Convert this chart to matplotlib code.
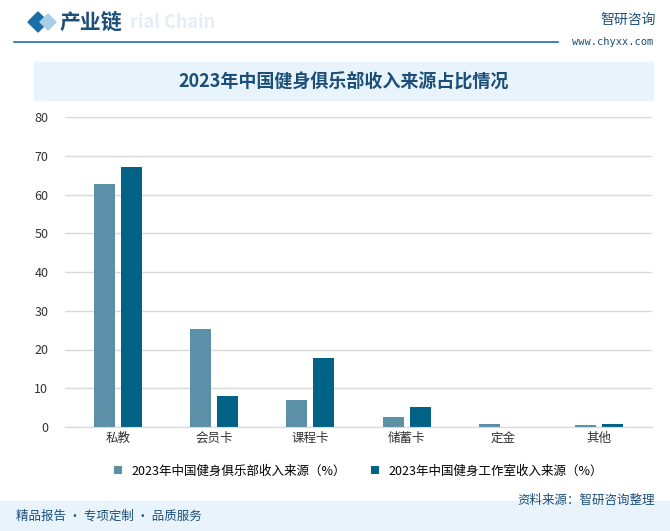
import matplotlib.pyplot as plt
from matplotlib.patches import Rectangle, Polygon
import numpy as np

plt.rcParams['font.sans-serif'] = ['Noto Sans CJK SC', 'DejaVu Sans']
plt.rcParams['axes.unicode_minus'] = False

categories = ['私教', '会员卡', '课程卡', '储蓄卡', '定金', '其他']
club = [62.7, 25.3, 7.0, 2.6, 0.8, 0.5]
studio = [67.1, 8.0, 17.8, 5.2, 0.0, 0.8]
series_names = ['2023年中国健身俱乐部收入来源（%）', '2023年中国健身工作室收入来源（%）']

W, H = 670, 531
fig = plt.figure(figsize=(W / 100, H / 100), dpi=100)

# 顶部标题栏
fig.patches.append(Polygon([[28 / W, 1 - 22 / H], [38 / W, 1 - 12 / H], [48 / W, 1 - 22 / H], [38 / W, 1 - 32 / H]],
                           closed=True, color='#1a6fa8', transform=fig.transFigure))
fig.patches.append(Polygon([[40 / W, 1 - 22 / H], [48 / W, 1 - 14 / H], [56 / W, 1 - 22 / H], [48 / W, 1 - 30 / H]],
                           closed=True, color='#a9cde6', transform=fig.transFigure))
fig.text(130 / W, 1 - 32 / H, 'rial Chain', fontsize=13, color='#e3eef7', fontweight='bold', va='bottom')
fig.text(60 / W, 1 - 22 / H, '产业链', fontsize=15, color='#1b4f7a', va='center', fontweight='bold')
fig.add_artist(plt.Line2D([14 / W, 558 / W], [1 - 42 / H, 1 - 42 / H], color='#1a6fa8', lw=1.2))
fig.text(600 / W, 1 - 20 / H, '智研咨询', fontsize=10, color='#1b4f7a', va='center')
fig.text(653 / W, 1 - 42 / H, 'www.chyxx.com', fontsize=7.5, color='#1b4f7a', va='center', ha='right', family='DejaVu Sans Mono')

# 图表标题
fig.patches.append(Rectangle((34 / W, 1 - 100 / H), 619 / W, 38 / H, color='#e8f3fb', transform=fig.transFigure))
fig.text(344 / W, 1 - 81 / H, '2023年中国健身俱乐部收入来源占比情况', fontsize=13, color='#1b4f7a',
         ha='center', va='center', fontweight='bold', family='Noto Sans CJK SC')

ax = fig.add_axes([65 / W, 1 - 427 / H, 587 / W, 310 / H])
x = np.arange(len(categories))
w = 0.22
ax.bar(x - 0.14, club, width=w, color='#5b90a8', label=series_names[0])
ax.bar(x + 0.14, studio, width=w, color='#006285', label=series_names[1])
ax.set_xlim(-0.55, len(categories) - 0.45)
ax.set_ylim(0, 80)
ax.set_yticks(range(0, 81, 10))
ax.set_xticks(x)
ax.set_xticklabels(categories)
ax.tick_params(length=0, labelsize=9, colors='#333333')
ax.tick_params(axis='y', pad=12)
ax.grid(axis='y', color='#d9d9d9', lw=1)
ax.set_axisbelow(True)
for s in ['top', 'right', 'left']:
    ax.spines[s].set_visible(False)
ax.spines['bottom'].set_color('#d9d9d9')
ax.legend(loc='upper center', bbox_to_anchor=(0.5, -0.085), ncol=2, frameon=False, fontsize=9,
          handlelength=0.6, handleheight=0.6, columnspacing=2)

# 底部
fig.patches.append(Rectangle((0, 0), 1, 30 / H, color='#e8f3fb', transform=fig.transFigure))
fig.text(16 / W, 15 / H, '精品报告 · 专项定制 · 品质服务', fontsize=9, color='#1b4f7a', va='center')
fig.text(655 / W, 31 / H, '资料来源：智研咨询整理', fontsize=9, color='#1b4f7a', va='center', ha='right')

fig.savefig('out.png', dpi=100)
